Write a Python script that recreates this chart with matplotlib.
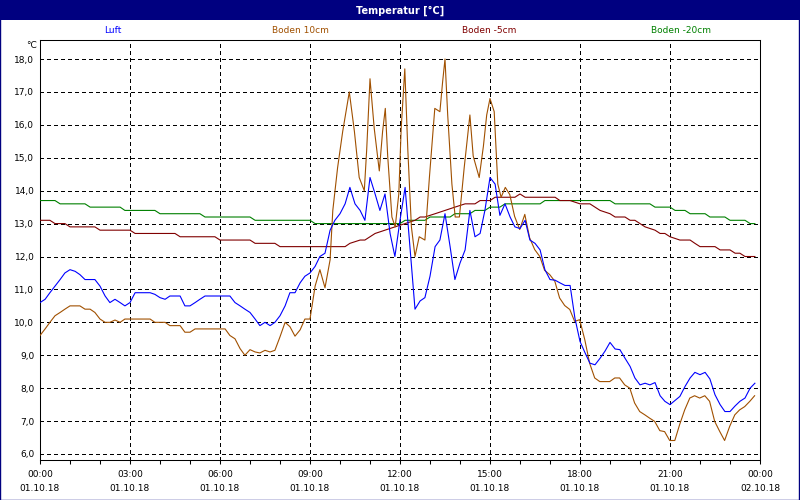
import matplotlib
matplotlib.use("Agg")
import matplotlib.pyplot as plt
from matplotlib.patches import Rectangle

title = "Temperatur [°C]"
series_names = ["Luft", "Boden 10cm", "Boden -5cm", "Boden -20cm"]
series_colors = ["#0000FF", "#A05000", "#800000", "#008000"]
x_ticks = [0, 3, 6, 9, 12, 15, 18, 21, 24]
x_tick_labels = ["00:00\n01.10.18", "03:00\n01.10.18", "06:00\n01.10.18",
                 "09:00\n01.10.18", "12:00\n01.10.18", "15:00\n01.10.18",
                 "18:00\n01.10.18", "21:00\n01.10.18", "00:00\n02.10.18"]
y_ticks = list(range(6, 19))
y_unit = "°C"

# Luft (air) – hours since 01.10.18 00:00, °C
luft_t = [0, 0.17, 0.33, 0.5, 0.67, 0.83, 1.0, 1.17, 1.33, 1.5, 1.83, 2.0, 2.17, 2.33, 2.5,
          2.67, 2.83, 3.0, 3.17, 3.67, 3.83, 4.0, 4.17, 4.33, 4.67, 4.83, 5.0, 5.17, 5.33,
          5.5, 6.33, 6.5, 6.67, 6.83, 7.0, 7.17, 7.33, 7.5, 7.67, 7.83, 8.0, 8.17, 8.33,
          8.5, 8.67, 8.83, 9.0, 9.17, 9.33, 9.5, 9.67, 9.83, 10.0, 10.17, 10.33, 10.5,
          10.67, 10.83, 11.0, 11.17, 11.33, 11.5, 11.67, 11.83, 12.0, 12.17, 12.33, 12.5,
          12.67, 12.83, 13.0, 13.17, 13.33, 13.5, 13.67, 13.83, 14.0, 14.17, 14.33, 14.5,
          14.67, 14.83, 15.0, 15.17, 15.33, 15.5, 15.67, 15.83, 16.0, 16.17, 16.33, 16.5,
          16.67, 16.83, 17.0, 17.17, 17.33, 17.5, 17.67, 17.83, 18.0, 18.17, 18.33, 18.5,
          18.67, 18.83, 19.0, 19.17, 19.33, 19.5, 19.67, 19.83, 20.0, 20.17, 20.33, 20.5,
          20.67, 20.83, 21.0, 21.17, 21.33, 21.5, 21.67, 21.83, 22.0, 22.17, 22.33, 22.5,
          22.67, 22.83, 23.0, 23.17, 23.33, 23.5, 23.67, 23.83]
luft_v = [10.6, 10.7, 10.9, 11.1, 11.3, 11.5, 11.6, 11.55, 11.45, 11.3, 11.3, 11.1, 10.8,
          10.6, 10.7, 10.6, 10.5, 10.6, 10.9, 10.9, 10.85, 10.75, 10.7, 10.8, 10.8, 10.5,
          10.5, 10.6, 10.7, 10.8, 10.8, 10.6, 10.5, 10.4, 10.3, 10.1, 9.9, 10.0, 9.9, 10.0,
          10.2, 10.5, 10.9, 10.9, 11.2, 11.4, 11.5, 11.7, 12.0, 12.1, 12.8, 13.1, 13.3,
          13.6, 14.1, 13.6, 13.4, 13.1, 14.4, 13.9, 13.4, 13.9, 12.7, 12.0, 13.1, 14.1,
          12.3, 10.4, 10.65, 10.75, 11.4, 12.3, 12.5, 13.3, 12.3, 11.3, 11.8, 12.2, 13.4,
          12.6, 12.7, 13.4, 14.4, 14.2, 13.25, 13.6, 13.2, 12.9, 12.85, 13.1, 12.5, 12.4,
          12.2, 11.6, 11.3, 11.28, 11.2, 11.12, 11.12, 10.13, 9.42, 9.07, 8.76, 8.71, 8.91,
          9.12, 9.39, 9.19, 9.17, 8.91, 8.66, 8.31, 8.1, 8.15, 8.1, 8.17, 7.77, 7.6, 7.5,
          7.63, 7.75, 8.05, 8.31, 8.48, 8.41, 8.48, 8.28, 7.8, 7.5, 7.29, 7.29, 7.46, 7.6,
          7.7, 8.0, 8.15]

# Boden 10cm
b10_t = [0, 0.17, 0.33, 0.5, 0.67, 0.83, 1.0, 1.33, 1.5, 1.67, 1.83, 2.0, 2.17, 2.33, 2.5,
         2.67, 2.83, 3.67, 3.83, 4.17, 4.33, 4.67, 4.83, 5.0, 5.17, 6.17, 6.33, 6.5, 6.67,
         6.83, 7.0, 7.17, 7.33, 7.5, 7.67, 7.83, 8.0, 8.17, 8.33, 8.5, 8.67, 8.83, 9.0,
         9.17, 9.33, 9.5, 9.67, 9.76, 9.92, 10.09, 10.31, 10.48, 10.64, 10.81, 10.89, 11.0,
         11.14, 11.31, 11.42, 11.51, 11.59, 11.73, 11.84, 11.96, 12.04, 12.16, 12.26,
         12.38, 12.5, 12.64, 12.83, 12.98, 13.16, 13.33, 13.42, 13.5, 13.59, 13.73, 13.84,
         13.98, 14.14, 14.33, 14.44, 14.64, 14.78, 14.89, 15.0, 15.14, 15.26, 15.37, 15.51,
         15.66, 15.82, 15.99, 16.16, 16.32, 16.49, 16.66, 16.82, 16.99, 17.16, 17.32,
         17.49, 17.66, 17.82, 17.99, 18.16, 18.32, 18.49, 18.66, 18.99, 19.16, 19.32,
         19.49, 19.66, 19.82, 19.99, 20.16, 20.32, 20.49, 20.66, 20.82, 20.99, 21.16,
         21.32, 21.49, 21.66, 21.82, 21.99, 22.16, 22.32, 22.49, 22.66, 22.82, 22.99,
         23.16, 23.32, 23.49, 23.66, 23.82]
b10_v = [9.6, 9.8, 10.0, 10.2, 10.3, 10.4, 10.5, 10.5, 10.4, 10.4, 10.3, 10.1, 10.0, 10.0,
         10.07, 10.0, 10.1, 10.1, 10.0, 10.0, 9.9, 9.9, 9.7, 9.7, 9.8, 9.8, 9.6, 9.5, 9.2,
         9.0, 9.17, 9.1, 9.07, 9.15, 9.1, 9.15, 9.56, 10.0, 9.87, 9.58, 9.77, 10.1, 10.1,
         11.1, 11.6, 11.05, 11.9, 13.4, 14.7, 15.8, 17.0, 15.8, 14.4, 14.0, 15.25, 17.4,
         15.9, 14.6, 15.8, 16.5, 15.05, 13.2, 12.9, 13.9, 15.9, 17.7, 15.25, 12.9, 12.0,
         12.6, 12.5, 14.4, 16.5, 16.4, 17.3, 18.0, 16.3, 14.2, 13.2, 13.2, 14.7, 16.3,
         15.05, 14.4, 15.35, 16.3, 16.8, 16.4, 14.2, 13.8, 14.1, 13.88, 13.22, 12.82,
         13.28, 12.57, 12.21, 12.0, 11.58, 11.45, 11.25, 10.74, 10.51, 10.39, 10.03, 10.08,
         9.47, 8.76, 8.31, 8.2, 8.2, 8.31, 8.31, 8.1, 8.0, 7.55, 7.29, 7.19, 7.09, 6.99,
         6.71, 6.68, 6.41, 6.41, 6.89, 7.34, 7.7, 7.77, 7.7, 7.77, 7.6, 6.99, 6.68, 6.41,
         6.84, 7.19, 7.34, 7.44, 7.6, 7.77]

# Boden -5cm
b5_t = [0, 0.33, 0.5, 0.83, 1.0, 1.83, 2.0, 3.0, 3.17, 4.5, 4.67, 5.83, 6.0, 7.0, 7.17, 7.83,
        8.0, 10.17, 10.33, 10.67, 10.83, 11.0, 11.17, 11.5, 11.83, 12.17, 12.5, 12.67,
        12.83, 13.17, 13.5, 13.83, 14.17, 14.5, 14.67, 15.0, 15.17, 15.83, 16.0, 16.17,
        17.17, 17.33, 17.67, 18.0, 18.33, 18.5, 18.67, 19.0, 19.17, 19.5, 19.67, 19.83,
        20.0, 20.17, 20.5, 20.67, 20.83, 21.0, 21.33, 21.67, 21.83, 22.0, 22.5, 22.67,
        23.0, 23.17, 23.33, 23.5, 23.83]
b5_v = [13.1, 13.1, 13.0, 13.0, 12.9, 12.9, 12.8, 12.8, 12.7, 12.7, 12.6, 12.6, 12.5, 12.5,
        12.4, 12.4, 12.3, 12.3, 12.4, 12.5, 12.5, 12.6, 12.7, 12.8, 12.9, 13.0, 13.1, 13.2,
        13.2, 13.3, 13.4, 13.5, 13.6, 13.6, 13.7, 13.7, 13.8, 13.8, 13.9, 13.8, 13.8, 13.7,
        13.7, 13.6, 13.6, 13.5, 13.4, 13.3, 13.2, 13.2, 13.1, 13.1, 13.0, 12.9, 12.8, 12.7,
        12.7, 12.6, 12.5, 12.5, 12.4, 12.3, 12.3, 12.2, 12.2, 12.1, 12.1, 12.0, 12.0]

# Boden -20cm
b20_t = [0, 0.5, 0.67, 1.5, 1.67, 2.67, 2.83, 3.83, 4.0, 5.33, 5.5, 7.0, 7.17, 9.0, 9.17,
         12.0, 12.17, 12.83, 13.0, 13.67, 13.83, 14.33, 14.5, 14.83, 15.0, 15.33, 15.5,
         16.67, 16.83, 19.0, 19.17, 20.33, 20.5, 21.0, 21.17, 21.5, 21.67, 22.17, 22.33,
         22.83, 23.0, 23.5, 23.67, 23.83]
b20_v = [13.7, 13.7, 13.6, 13.6, 13.5, 13.5, 13.4, 13.4, 13.3, 13.3, 13.2, 13.2, 13.1, 13.1,
         13.0, 13.0, 13.1, 13.1, 13.2, 13.2, 13.3, 13.3, 13.4, 13.4, 13.5, 13.5, 13.6, 13.6,
         13.7, 13.7, 13.6, 13.6, 13.5, 13.5, 13.4, 13.4, 13.3, 13.3, 13.2, 13.2, 13.1,
         13.1, 13.0, 13.0]

NAVY = "#000080"
FS = 6.5
plt.rcParams["font.family"] = ["DejaVu Sans"]

fig = plt.figure(figsize=(8, 5), dpi=100, facecolor="white")

# title bar and outer frame
fig.patches.append(Rectangle((0, 0.96), 1, 0.04, transform=fig.transFigure,
                             facecolor=NAVY, edgecolor="none", zorder=0))
fig.patches.append(Rectangle((0.0006, 0.001), 0.9985, 0.998, transform=fig.transFigure,
                             facecolor="none", edgecolor=NAVY, linewidth=1.0, zorder=5))
fig.text(0.5, 0.979, title, color="white", fontsize=FS + 0.5, fontweight="bold",
         ha="center", va="center")

# legend row
legend_x = [0.141, 0.376, 0.612, 0.851]
for name, col, lx in zip(series_names, series_colors, legend_x):
    fig.text(lx, 0.939, name, color=col, fontsize=FS, ha="center", va="center")

ax = fig.add_axes([0.05, 0.08, 0.9, 0.84])
ymin, ymax = 6 - 6 / 32.9, 18 + 19 / 32.9
ax.set_xlim(0, 24)
ax.set_ylim(ymin, ymax)

for t, v, col in [(b20_t, b20_v, series_colors[3]), (b5_t, b5_v, series_colors[2]),
                  (b10_t, b10_v, series_colors[1]), (luft_t, luft_v, series_colors[0])]:
    ax.plot(t, v, color=col, linewidth=0.8, antialiased=True, zorder=3)

# grid
for yv in y_ticks:
    ax.axhline(yv, color="black", linewidth=0.72, linestyle=(0, (3, 3)), zorder=1,
               antialiased=False)
for xv in x_ticks[1:-1]:
    ax.axvline(xv, color="black", linewidth=0.72, linestyle=(0, (3, 3)), zorder=1,
               antialiased=False)

for s in ax.spines.values():
    s.set_linewidth(0.75)
    s.set_color("black")

ax.set_yticks(y_ticks)
ax.set_yticklabels([f"{v},0" for v in y_ticks], fontsize=FS)
ax.tick_params(axis="y", length=0, pad=4)
ax.set_xticks(x_ticks)
ax.set_xticklabels(x_tick_labels, fontsize=FS, linespacing=1.75)
ax.set_xticks(list(range(25)), minor=True)
ax.tick_params(axis="x", which="both", length=3, width=0.75, direction="out", pad=4)
ax.text(-0.005, 0.988, y_unit, transform=ax.transAxes, fontsize=FS, ha="right",
        va="center")

fig.savefig("out.png", dpi=100, facecolor="white")
